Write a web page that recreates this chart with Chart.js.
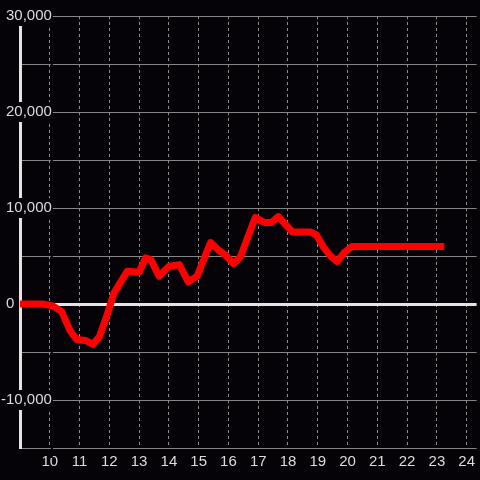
<!DOCTYPE html>
<html>
<head>
<meta charset="utf-8">
<script src="https://cdn.jsdelivr.net/npm/chart.js@4/dist/chart.umd.min.js"></script>
<style>
  html, body { margin: 0; padding: 0; background: #050308; }
  #wrap { width: 480px; height: 480px; }
</style>
</head>
<body>
<div id="wrap"><canvas id="chart" width="480" height="480"></canvas></div>
<script>
// hour of day (x) and running value (y)
const hours = [8.5, 9.75, 10.1, 10.4, 10.67, 10.9, 11.2, 11.45, 11.67, 11.95, 12.15, 12.6, 13.0,
  13.22, 13.4, 13.67, 14.0, 14.35, 14.65, 14.95, 15.4, 15.67, 15.9, 16.17, 16.4, 16.9, 17.2,
  17.45, 17.67, 18.15, 18.75, 18.95, 19.2, 19.4, 19.65, 19.9, 20.15, 23.25];
const values = [0, 0, -200, -800, -2700, -3700, -3800, -4200, -3400, -900, 1100, 3400, 3300,
  4800, 4600, 2900, 3900, 4100, 2300, 2900, 6400, 5600, 5100, 4200, 4900, 9000, 8500,
  8500, 9100, 7500, 7500, 7200, 5900, 5100, 4400, 5400, 6000, 6000];

// axis ranges
const xMin = 9, xMax = 24 + 1 / 3;
const yMin = -15000, yMax = 30000, yStep = 5000, yLabelStep = 10000;

const bg = "#050308";
const textCol = "#dcdcdc";
const gridCol = "#858585";
const zeroCol = "#e4e4e4";

const points = hours.map((h, i) => ({ x: h, y: values[i] }));

new Chart(document.getElementById("chart").getContext("2d"), {
  type: "scatter",
  data: {
    datasets: [{
      data: points,
      showLine: true,
      borderColor: "#ff0000",
      borderWidth: 7,
      borderJoinStyle: "round",
      pointRadius: 0,
      tension: 0,
    }],
  },
  options: {
    responsive: false,
    animation: false,
    layout: { padding: { top: 16, left: 0, right: 0, bottom: 0 } },
    plugins: { legend: { display: false }, tooltip: { enabled: false } },
    scales: {
      x: {
        type: "linear",
        min: xMin,
        max: xMax,
        afterFit: (s) => { s.height = 32; },
        border: { display: false, dash: [3, 3] },
        grid: {
          color: "#8c8c8c",
          lineWidth: 1,
          drawTicks: false,
        },
        ticks: {
          stepSize: 1,
          includeBounds: false,
          color: textCol,
          padding: 5,
          maxRotation: 0,
          font: { family: "Liberation Sans", size: 15 },
          callback: (v) => (v === xMin ? "" : v),
        },
      },
      y: {
        type: "linear",
        min: yMin,
        max: yMax,
        afterFit: (s) => { s.width = 20; },
        border: { display: true, color: zeroCol, width: 3 },
        grid: {
          drawTicks: false,
          color: (ctx) => (ctx.tick && ctx.tick.value === 0 ? zeroCol : gridCol),
          lineWidth: (ctx) => (ctx.tick && ctx.tick.value === 0 ? 3 : 1),
        },
        ticks: {
          stepSize: yStep,
          color: textCol,
          mirror: true,
          crossAlign: "far",
          padding: -19,
          font: { family: "Liberation Sans", size: 15 },
          showLabelBackdrop: true,
          backdropColor: (ctx) => (ctx.tick && ctx.tick.value === 0 ? "rgba(0,0,0,0)" : bg),
          backdropPadding: { top: 1, bottom: 1, left: 1, right: 1 },
          callback: (v) => {
            if (v === 0) return "0         ";
            if (v % yLabelStep !== 0) return "";
            return v.toLocaleString("en-US");
          },
        },
      },
    },
  },
  plugins: [{
    id: "bg",
    beforeDraw: (c) => {
      const ctx = c.ctx;
      ctx.save();
      ctx.fillStyle = bg;
      ctx.fillRect(0, 0, c.width, c.height);
      ctx.restore();
    },
  }],
});
</script>
</body>
</html>
